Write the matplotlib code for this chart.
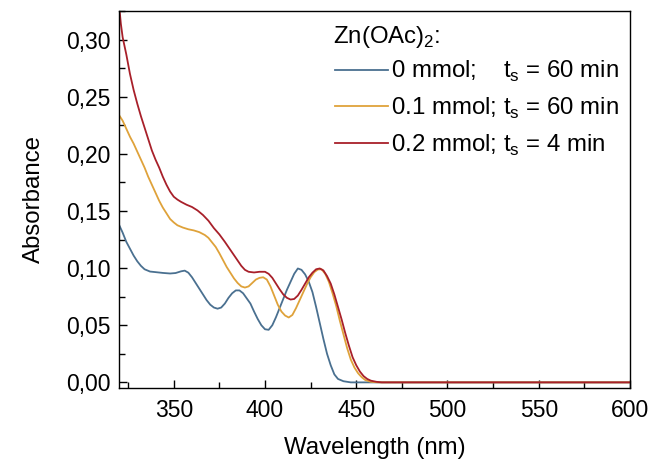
import numpy as np
import matplotlib
matplotlib.use('Agg')
import matplotlib.pyplot as plt
from matplotlib.ticker import MultipleLocator, FuncFormatter

plt.rcParams['font.family'] = ['Liberation Sans', 'DejaVu Sans']
plt.rcParams['mathtext.fontset'] = 'custom'
plt.rcParams['mathtext.rm'] = 'Liberation Sans'

# Spectra (wavelength in nm, absorbance)
wl_0 = [320, 322, 324, 326, 328, 330, 332, 334, 337, 340, 344, 348, 351, 354, 356, 358, 360,
        362, 364, 366, 368, 370, 372, 374, 376, 378, 380, 382, 384, 386, 388, 390, 392, 394,
        396, 398, 400, 402, 404, 406, 408, 410, 412, 414, 416, 418, 420, 422, 424, 426, 428,
        430, 432, 434, 436, 438, 440, 443, 447, 600]
abs_0 = [0.138, 0.131, 0.123, 0.117, 0.111, 0.106, 0.102, 0.099, 0.097, 0.0965, 0.0958,
         0.0953, 0.0957, 0.0972, 0.0978, 0.0960, 0.0920, 0.0870, 0.0820, 0.0770, 0.0720,
         0.0680, 0.0655, 0.0645, 0.0655, 0.0690, 0.0740, 0.0780, 0.0805, 0.0805, 0.0780,
         0.0735, 0.0690, 0.0620, 0.0555, 0.0500, 0.0465, 0.0460, 0.0500, 0.0570, 0.0650,
         0.0730, 0.0810, 0.0880, 0.0950, 0.0997, 0.0985, 0.0945, 0.0880, 0.0790, 0.0660,
         0.0520, 0.0380, 0.0250, 0.0150, 0.0070, 0.0030, 0.0010, 0.0, 0.0]

wl_01 = [320, 322, 324, 326, 328, 330, 332, 334, 336, 338, 340, 342, 344, 346, 348, 350, 352,
         355, 358, 361, 364, 367, 369, 371, 373, 375, 377, 379, 381, 383, 385, 387, 389, 391,
         393, 395, 397, 399, 401, 403, 405, 407, 409, 411, 413, 415, 417, 419, 421, 423, 425,
         427, 429, 431, 433, 435, 437, 439, 441, 443, 445, 447, 449, 451, 453, 455, 458, 462,
         600]
abs_01 = [0.234, 0.229, 0.222, 0.215, 0.209, 0.202, 0.195, 0.188, 0.180, 0.173, 0.166,
          0.159, 0.153, 0.148, 0.143, 0.140, 0.1375, 0.1355, 0.1340, 0.1330, 0.1315, 0.1290,
          0.1265, 0.1225, 0.1185, 0.1130, 0.1070, 0.1010, 0.0960, 0.0910, 0.0870, 0.0840,
          0.0830, 0.0840, 0.0870, 0.0900, 0.0915, 0.0920, 0.0900, 0.0840, 0.0760, 0.0680,
          0.0620, 0.0585, 0.0568, 0.0590, 0.0650, 0.0720, 0.0790, 0.0860, 0.0920, 0.0965,
          0.0988, 0.0990, 0.0950, 0.0880, 0.0780, 0.0670, 0.0540, 0.0420, 0.0300, 0.0200,
          0.0130, 0.0080, 0.0045, 0.0020, 0.0005, 0.0, 0.0]

wl_02 = [320, 321, 322, 324, 326, 328, 330, 332, 334, 336, 338, 340, 342, 344, 346, 348, 350,
         352, 354, 357, 360, 363, 366, 369, 372, 375, 378, 381, 384, 387, 389, 391, 394, 397,
         400, 402, 404, 406, 408, 410, 412, 414, 416, 418, 420, 422, 424, 426, 428, 430, 432,
         434, 436, 438, 440, 442, 444, 446, 448, 450, 452, 454, 456, 458, 461, 464, 600]
abs_02 = [0.331, 0.314, 0.302, 0.287, 0.270, 0.256, 0.244, 0.233, 0.223, 0.213, 0.203,
          0.195, 0.188, 0.180, 0.173, 0.167, 0.1625, 0.160, 0.158, 0.1555, 0.1535, 0.1505,
          0.1465, 0.1415, 0.135, 0.1295, 0.1230, 0.1160, 0.1090, 0.1020, 0.0985, 0.0968,
          0.0962, 0.0968, 0.0968, 0.0950, 0.0915, 0.0865, 0.0815, 0.0770, 0.0740, 0.0725,
          0.0730, 0.0760, 0.0810, 0.0865, 0.0920, 0.0960, 0.0990, 0.0997, 0.0980, 0.0930,
          0.0865, 0.0770, 0.0660, 0.0550, 0.0430, 0.0320, 0.0220, 0.0150, 0.0095, 0.0055,
          0.0030, 0.0015, 0.0005, 0.0, 0.0]

labels = [r'0 mmol;    t$_\mathregular{s}$ = 60 min',
          r'0.1 mmol; t$_\mathregular{s}$ = 60 min',
          r'0.2 mmol; t$_\mathregular{s}$ = 4 min']
legend_title = r'Zn(OAc)$_\mathregular{2}$:'
colors = ['#4a7090', '#dfa23a', '#a8202a']

fig = plt.figure(figsize=(6.55, 4.61), dpi=100)
ax = fig.add_axes([0.1817, 0.1594, 0.7801, 0.8166])

ax.plot(wl_0, abs_0, color=colors[0], lw=1.3, label=labels[0])
ax.plot(wl_01, abs_01, color=colors[1], lw=1.3, label=labels[1])
ax.plot(wl_02, abs_02, color=colors[2], lw=1.3, label=labels[2])

ax.set_xlim(320, 600)
ax.set_ylim(-0.0045, 0.325)
ax.xaxis.set_major_locator(MultipleLocator(50))
ax.xaxis.set_minor_locator(MultipleLocator(25))
ax.yaxis.set_major_locator(MultipleLocator(0.05))
ax.yaxis.set_minor_locator(MultipleLocator(0.025))
ax.yaxis.set_major_formatter(FuncFormatter(lambda v, p: f'{v:.2f}'.replace('.', ',')))
ax.tick_params(which='both', direction='in', labelsize=16.5, top=False, right=False)
ax.tick_params(which='major', length=6, width=1)
ax.tick_params(which='minor', length=4, width=1)
ax.tick_params(axis='x', which='major', pad=8)
ax.tick_params(axis='y', which='major', pad=6)
for s in ax.spines.values():
    s.set_linewidth(1.0)

ax.set_xlabel('Wavelength (nm)', fontsize=17.3, labelpad=11)
ax.set_ylabel('Absorbance', fontsize=17.3, labelpad=15)

# legend title drawn as its own text so the row spacing matches
fig.text(333 / 655, 1 - 37 / 461, legend_title, fontsize=17.3, ha='left', va='center')
leg = ax.legend(loc='upper left', bbox_to_anchor=(335 / 655, 1 - 59 / 461),
                bbox_transform=fig.transFigure, frameon=False, fontsize=17.3,
                handlelength=2.2, handletextpad=0.15, labelspacing=0.48,
                borderaxespad=0, borderpad=0)

fig.savefig('out.png', dpi=100)
